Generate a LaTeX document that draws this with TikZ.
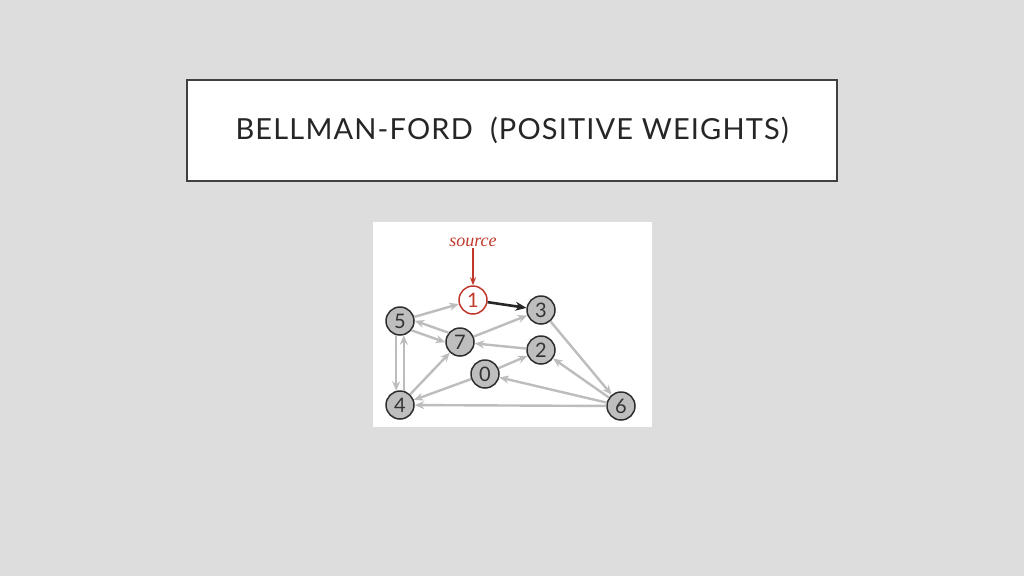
\documentclass[tikz,border=0pt]{standalone}
\usepackage{fontspec}
\setmainfont{Lato}
\newfontfamily\titlefont[LetterSpace=4]{Lato}
\newfontfamily\srcfont{Liberation Serif}
\usetikzlibrary{positioning,arrows.meta}
\definecolor{slidebg}{HTML}{DDDDDD}
\definecolor{titleline}{HTML}{404040}
\definecolor{nodefill}{HTML}{BEBEBE}
\definecolor{nodeline}{HTML}{2E2E2E}
\definecolor{edgegray}{HTML}{BDBDBD}
\definecolor{srcred}{HTML}{C0392B}

\begin{document}
\begin{tikzpicture}[x=1pt,y=-1pt,
    edge/.style={draw=edgegray,line width=2.4pt,-{Stealth[length=9.5pt,width=8pt]}},
    tree edge/.style={draw=black!85,line width=2.6pt,-{Stealth[length=11pt,width=9pt]}}]
    \useasboundingbox[fill=slidebg] (0,0) rectangle (1024,576);
    %%%%% THE TITLE
    \node (TITLE) [draw=titleline, line width=2pt, fill=white, minimum width=650pt,
      minimum height=101pt, inner sep=0pt, text=black!85]
      at (512,130.5) {\titlefont\fontsize{29}{30}\selectfont BELLMAN-FORD\ \ (POSITIVE WEIGHTS)};
    %%%%% THE PANEL
    \node (PANEL) [fill=white, minimum width=279pt, minimum height=205pt, inner sep=0pt]
      at (512.5,324.5) {};
    %%%%% THE VERTICES
    \begin{scope}[every node/.style={circle,draw=nodeline,fill=nodefill,line width=1.5pt,
        minimum size=28pt,inner sep=0pt,font=\fontsize{20}{20}\selectfont,text=black!80}]
      \node (V1) [draw=srcred, fill=white, text=srcred] at (473,300) {1};
      \node (V3) at (541,310) {3};
      \node (V5) at (400,321) {5};
      \node (V7) at (460,342) {7};
      \node (V2) at (541,350) {2};
      \node (V0) at (485,374) {0};
      \node (V4) at (400,405) {4};
      \node (V6) at (621,406) {6};
    \end{scope}
    %%%%% THE SOURCE LABEL
    \node (SRC) [text=srcred, font=\srcfont\itshape\fontsize{18}{18}\selectfont, inner sep=1.5pt]
      at (473,242) {source};
    \draw[srcred, line width=1.1pt, -{Stealth[length=8pt,width=6pt]}] (SRC) -- (V1);
    %%%%% THE EDGES
    \draw[edge] (V5) -- (V1);
    \draw[tree edge] (V1) -- (V3);
    \draw[edge] (V7.141) -- (V5.1);
    \draw[edge] (V5.-39) -- (V7.181);
    \draw[edge] (V7) -- (V3);
    \draw[edge] (V2) -- (V7);
    \draw[edge] (V0) -- (V2);
    \draw[edge] (V4) -- (V7);
    \draw[edge] (V0) -- (V4);
    \draw[edge] (V5.255) -- (V4.105);
    \draw[edge] (V4.75) -- (V5.285);
    \draw[edge] (V3) -- (V6);
    \draw[edge] (V6) -- (V2);
    \draw[edge] (V6) -- (V0);
    \draw[edge] (V6) -- (V4);
  \end{tikzpicture}
\end{document}
